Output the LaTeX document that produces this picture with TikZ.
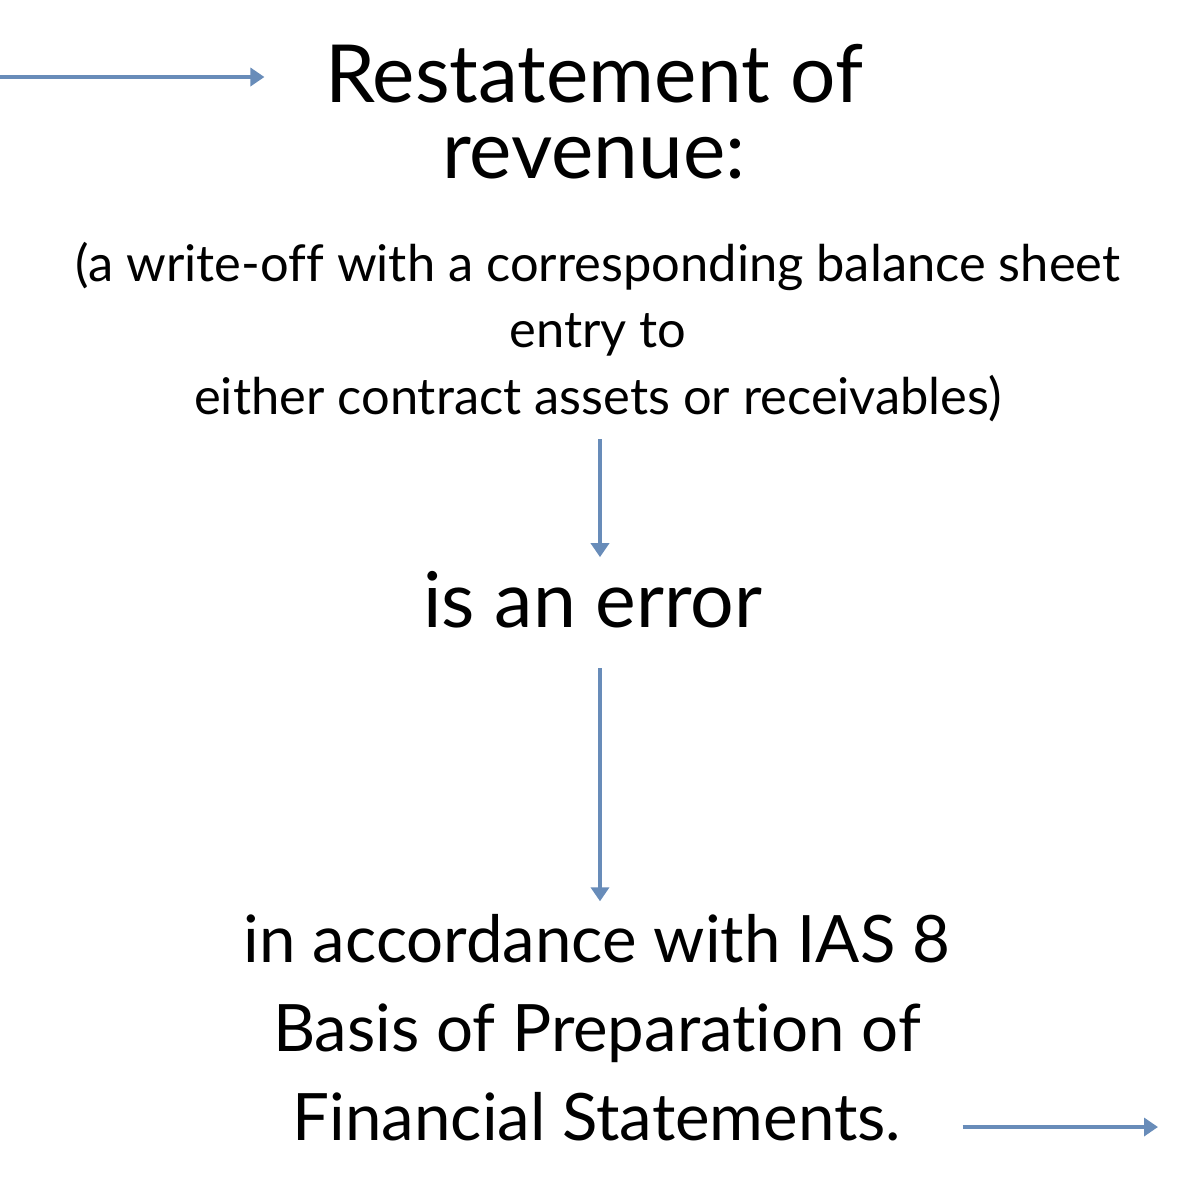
\documentclass[tikz,border=0pt]{standalone}
\usepackage{fontspec}
\setmainfont{Lato}[RawFeature=-liga]
\usetikzlibrary{arrows.meta}
\definecolor{flowBlue}{RGB}{104,140,185}

\begin{document}
\begin{tikzpicture}
    \tikzset{txt/.style={align=center, inner sep=0pt, anchor=base},
             flow/.style={-{Triangle[width=0.18cm, length=0.14cm]}, line width=0.04cm, color=flowBlue}}

    \useasboundingbox (0,0) rectangle (12,-12);

    % text blocks, placed at the baseline of their last line
    \node[txt, font=\fontsize{22.8}{21.5}\selectfont] (title) at (5.94,-1.78) {Restatement of\\revenue:};
    \node[txt, font=\fontsize{14.4}{18.8}\selectfont] (note) at (5.98,-4.14) {(a write-off with a corresponding balance sheet\\entry to\\either contract assets or receivables)};
    \node[txt, font=\fontsize{21.9}{22}\selectfont] (error) at (5.93,-6.27) {is an error};
    \node[txt, font=\fontsize{18.6}{25.3}\selectfont] (final) at (5.97,-11.40) {in accordance with IAS 8\\Basis of Preparation of\\Financial Statements.};

    \coordinate (in) at (0,-0.77);
    \coordinate (out) at (11.58,-11.27);
    \coordinate (axis) at (6.0,0);

    \draw[flow, shorten >=0.6cm] (in) -- (in -| title.west);
    \draw[flow, shorten <=0.17cm, shorten >=0.13cm] (axis |- note.south) -- (axis |- error.north);
    \draw[flow, shorten <=0.4cm, shorten >=0.12cm] (axis |- error.south) -- (axis |- final.north);
    \draw[flow, shorten <=0.12cm] (final.east |- out) -- (out);
\end{tikzpicture}
\end{document}
